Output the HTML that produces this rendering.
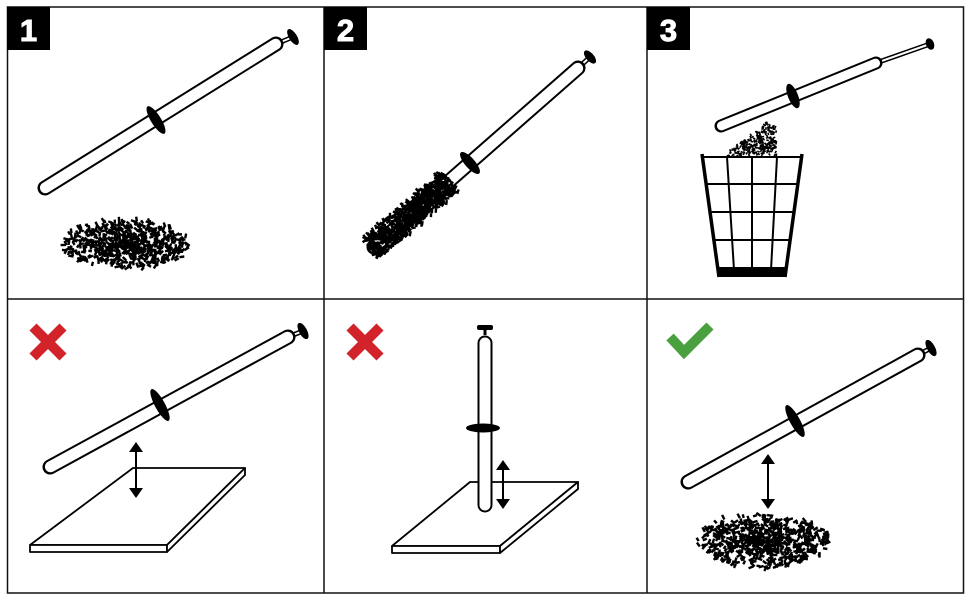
<!DOCTYPE html>
<html><head><meta charset="utf-8"><style>
html,body{margin:0;padding:0;background:#fff;}
svg{display:block;}
text{font-family:"Liberation Sans",sans-serif;font-weight:bold;}
</style></head><body>
<svg id="s" width="970" height="600" viewBox="0 0 970 600" xmlns="http://www.w3.org/2000/svg">
<rect x="0" y="0" width="970" height="600" fill="#fff"/>
<g fill="none" stroke="#111" stroke-width="1.5">
<rect x="7.5" y="7" width="956" height="586"/>
<line x1="324" y1="7" x2="324" y2="593"/>
<line x1="647" y1="7" x2="647" y2="593"/>
<line x1="7" y1="299" x2="964" y2="299"/>
</g>
<rect x="7" y="7" width="43" height="43" fill="#000"/>
<rect x="324" y="7" width="43" height="43" fill="#000"/>
<rect x="647" y="7" width="43" height="43" fill="#000"/>
<text x="28.5" y="41" font-size="31" fill="#fff" text-anchor="middle" stroke="#fff" stroke-width="1">1</text>
<text x="345.5" y="41" font-size="31" fill="#fff" text-anchor="middle" stroke="#fff" stroke-width="1">2</text>
<text x="668.5" y="41" font-size="31" fill="#fff" text-anchor="middle" stroke="#fff" stroke-width="1">3</text>
<!-- plates -->
<g stroke="#000" stroke-width="1.8" fill="#fff" stroke-linejoin="round">
<polygon points="30,545 133,468 245,468 167,545"/>
<polygon points="30,545 167,545 167,552 30,552"/>
<polygon points="167,545 245,468 245,475 167,552"/>
<polygon points="392,546 470,482 578,482 500,546"/>
<polygon points="392,546 500,546 500,553 392,553"/>
<polygon points="500,546 578,482 578,489 500,553"/>
</g>
<g id="draw"></g>
<!-- red X -->
<g stroke="#d2232a" stroke-width="10">
<line x1="33" y1="327" x2="63" y2="357"/><line x1="63" y1="327" x2="33" y2="357"/>
<line x1="350" y1="327" x2="380" y2="357"/><line x1="380" y1="327" x2="350" y2="357"/>
</g>
<polyline points="670,337 684,352 710,326" fill="none" stroke="#4aa03f" stroke-width="10"/>
<!-- basket -->
<g stroke="#000" fill="none">
<line x1="702" y1="154" x2="719" y2="277" stroke-width="3.5"/>
<line x1="802" y1="154" x2="785" y2="277" stroke-width="3.5"/>
<g stroke-width="2">
<line x1="727" y1="157" x2="734" y2="270"/><line x1="752" y1="157" x2="752" y2="270"/><line x1="777" y1="157" x2="771" y2="270"/>
<line x1="703" y1="157" x2="801" y2="157"/>
<line x1="706" y1="184" x2="798" y2="184"/><line x1="709" y1="212" x2="795" y2="212"/><line x1="713" y1="240" x2="791" y2="240"/>
</g>
</g>
<polygon points="718,267 786,267 785,277 719,277" fill="#000"/>
</svg>
<script>
var NS="http://www.w3.org/2000/svg",d=document.getElementById("draw");
function el(t,a,p){var e=document.createElementNS(NS,t);for(var k in a)e.setAttribute(k,a[k]);(p||d).appendChild(e);return e;}
var seed=7;function r(){seed=(seed*16807)%2147483647;return seed/2147483647;}
function tube(x1,y1,x2,y2,w,cx,cy,rx,kx,ky,kr){
 var dx=x2-x1,dy=y2-y1,L=Math.hypot(dx,dy),ux=dx/L,uy=dy/L;
 var ang=Math.atan2(dy,dx)*180/Math.PI;
 el("line",{x1:x2,y1:y2,x2:kx,y2:ky,stroke:"#000","stroke-width":5});
 el("line",{x1:x2,y1:y2,x2:kx,y2:ky,stroke:"#fff","stroke-width":2});
 el("line",{x1:x1,y1:y1,x2:x2,y2:y2,stroke:"#000","stroke-width":w+4,"stroke-linecap":"round"});
 el("line",{x1:x1+ux*0.5,y1:y1+uy*0.5,x2:x2-ux*0.5,y2:y2-uy*0.5,stroke:"#fff","stroke-width":w,"stroke-linecap":"round"});
 el("ellipse",{cx:cx,cy:cy,rx:5,ry:rx,fill:"#000",transform:"rotate("+ang+" "+cx+" "+cy+")"});
 el("ellipse",{cx:kx,cy:ky,rx:4,ry:kr||8,fill:"#000",transform:"rotate("+ang+" "+kx+" "+ky+")"});
}
function dot(x,y){el("rect",{x:x,y:y,width:2.4,height:3.5+r()*2,fill:"#000",transform:"rotate("+(r()*180)+" "+x+" "+y+")"});}
function cloud(cx,cy,rx,ry,n){
 for(var i=0;i<n;i++){var a=r()*6.283,q=Math.pow(r(),0.7)*1.1;
  dot(cx+Math.cos(a)*rx*q,cy+Math.sin(a)*ry*q);}
}
function band(x1,y1,x2,y2,wd,n){
 for(var i=0;i<n;i++){var t=r(),s=(r()-0.5)*wd;var dx=x2-x1,dy=y2-y1,L=Math.hypot(dx,dy);
  dot(x1+dx*t-dy/L*s,y1+dy*t+dx/L*s);}
}
tube(45,188,276,44,11,156,120,16,293,37,9);
cloud(128,244,58,22,650);
tube(374,247,578,68,11,470,163,14,590,57,8);
band(372,248,452,180,24,750);
tube(721,126,876,63,9,793,96,13,930,44,6);
(function(){for(var i=0;i<500;i++){var x=728+r()*48,y=123+r()*32;if(y<155-(x-728)*0.75-2&&x<765)continue;
 el("rect",{x:x,y:y,width:1.6,height:2.5,fill:"#000",transform:"rotate("+(r()*180)+" "+x+" "+y+")"});}})();
tube(50,467,288,337,11,160,405,18,303,331,9);
tube(688,482,918,355,11,795,421,18,931,348,9);
cloud(765,540,60,24,700);
// vertical tube panel 5
el("line",{x1:485,y1:335,x2:485,y2:328,stroke:"#000","stroke-width":3});
el("line",{x1:485,y1:343,x2:485,y2:505,stroke:"#000","stroke-width":15,"stroke-linecap":"round"});
el("line",{x1:485,y1:343,x2:485,y2:505,stroke:"#fff","stroke-width":11,"stroke-linecap":"round"});
el("rect",{x:477,y:325,width:16,height:5,rx:2,fill:"#000"});
el("ellipse",{cx:483,cy:428,rx:17,ry:4.5,fill:"#000"});
function arrow(x,y1,y2){
 el("line",{x1:x,y1:y1+8,x2:x,y2:y2-8,stroke:"#000","stroke-width":2});
 el("polygon",{points:(x-7)+","+(y1+10)+" "+(x+7)+","+(y1+10)+" "+x+","+y1,fill:"#000"});
 el("polygon",{points:(x-7)+","+(y2-10)+" "+(x+7)+","+(y2-10)+" "+x+","+y2,fill:"#000"});
}
arrow(136,442,498);arrow(503,460,509);arrow(768,454,509);
</script>
</body></html>
